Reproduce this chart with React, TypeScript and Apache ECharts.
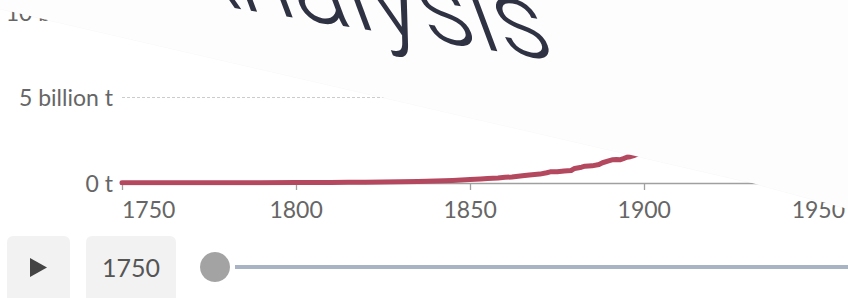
import React, { useEffect, useRef } from "react";
import * as echarts from "echarts";

const years: number[] = [1750, 1760, 1770, 1780, 1790, 1800, 1805, 1810, 1815, 1820, 1825, 1830, 1835, 1840, 1845, 1850, 1853, 1855, 1858, 1860, 1862, 1865, 1867, 1870, 1872, 1873, 1875, 1877, 1879, 1880, 1882, 1883, 1885, 1887, 1888, 1890, 1891, 1892, 1893, 1894, 1895, 1896, 1897, 1898, 1899, 1900];
const emissions: number[] = [9.3e6, 10e6, 12e6, 15e6, 20e6, 28e6, 30e6, 35e6, 40e6, 45e6, 55e6, 70e6, 85e6, 110e6, 150e6, 197e6, 230e6, 260e6, 290e6, 330e6, 350e6, 420e6, 470e6, 520e6, 600e6, 650e6, 650e6, 700e6, 730e6, 850e6, 920e6, 980e6, 1000e6, 1080e6, 1180e6, 1300e6, 1360e6, 1370e6, 1350e6, 1420e6, 1500e6, 1530e6, 1600e6, 1680e6, 1800e6, 1950e6];
const yTickLabels: Record<number, string> = { 0: "0 t", 5000000000: "5 billion t", 10000000000: "10 billion t" };
const xTickYears: number[] = [1750, 1800, 1850, 1900, 1950];
const currentYear = "1750";
const overlayTitle = "Analysis";

export default function App() {
  const ref = useRef<HTMLDivElement>(null);
  useEffect(() => {
    document.body.style.margin = "0";
    if (!ref.current) return;
    const chart = echarts.init(ref.current, null, { renderer: "svg" });
    const font = "Lato, 'Noto Sans', sans-serif";
    chart.setOption({
      animation: false,
      backgroundColor: "#ffffff",
      grid: { left: 122, right: 0, top: 11, bottom: 115, containLabel: false },
      xAxis: {
        type: "value",
        min: 1750,
        max: 1958,
        interval: 50,
        axisLine: { show: true, lineStyle: { color: "#a0a0a0", width: 1.3 } },
        axisTick: { show: true, length: 7, lineStyle: { color: "#a0a0a0", width: 1.3 } },
        splitLine: { show: false },
        axisLabel: {
          color: "#666666",
          fontFamily: font,
          fontSize: 23,
          margin: 14,
          showMaxLabel: false,
          alignMinLabel: "left",
          formatter: (v: number) => (xTickYears.includes(v) ? String(v) : ""),
        },
      },
      yAxis: {
        type: "value",
        min: 0,
        max: 10000000000,
        interval: 5000000000,
        axisLine: { show: false },
        axisTick: { show: false },
        splitLine: { show: true, lineStyle: { color: "#cccccc", type: [3, 2], width: 1 } },
        axisLabel: {
          color: "#666666",
          fontFamily: font,
          fontSize: 23,
          margin: 9,
          formatter: (v: number) => yTickLabels[v] ?? "",
        },
      },
      series: [
        {
          type: "line",
          data: years.map((y, i) => [y, emissions[i]]),
          showSymbol: false,
          symbol: "none",
          lineStyle: { color: "#b4485f", width: 5, cap: "round", join: "round" },
          z: 3,
        },
      ],
      graphic: [
        {
          type: "polygon",
          z: 100,
          shape: { points: [[0, 0], [848, 0], [848, 209], [752, 183], [0, 9]] },
          style: { fill: "#fdfdfd" },
        },
        {
          type: "polyline",
          z: 99,
          shape: { points: [[0, 8], [752, 182], [848, 208]] },
          style: { stroke: "rgba(0,0,0,0.03)", lineWidth: 3, fill: null },
        },
        {
          type: "group",
          x: 545,
          y: 24,
          rotation: -0.7711,
          scaleX: 1.43794,
          scaleY: 0.8259,
          z: 101,
          children: [
            {
              type: "text",
              z: 101,
              rotation: 0.8818,
              style: {
                text: overlayTitle,
                font: "300 95px Roboto",
                fill: "#2f3242",
                textAlign: "right",
                textVerticalAlign: "middle",
              },
            },
          ],
        },
        {
          type: "rect",
          z: 100,
          shape: { x: 7, y: 236, width: 63, height: 70, r: 6 },
          style: { fill: "#f2f2f2" },
        },
        {
          type: "polygon",
          z: 101,
          shape: { points: [[30, 258], [30, 277], [47, 267.5]] },
          style: { fill: "#444444" },
        },
        {
          type: "rect",
          z: 100,
          shape: { x: 86, y: 236, width: 90, height: 70, r: 6 },
          style: { fill: "#f2f2f2" },
        },
        {
          type: "text",
          z: 101,
          x: 131,
          y: 267,
          style: {
            text: currentYear,
            font: "25px Lato",
            fill: "#555555",
            textAlign: "center",
            textVerticalAlign: "middle",
          },
        },
        {
          type: "line",
          z: 100,
          shape: { x1: 235, y1: 267, x2: 848, y2: 267 },
          style: { stroke: "#a8b3c3", lineWidth: 4 },
        },
        {
          type: "circle",
          z: 101,
          shape: { cx: 215, cy: 267, r: 15 },
          style: { fill: "#a3a3a3" },
        },
      ],
    });
    return () => chart.dispose();
  }, []);
  return <div ref={ref} style={{ width: 848, height: 298 }} />;
}
